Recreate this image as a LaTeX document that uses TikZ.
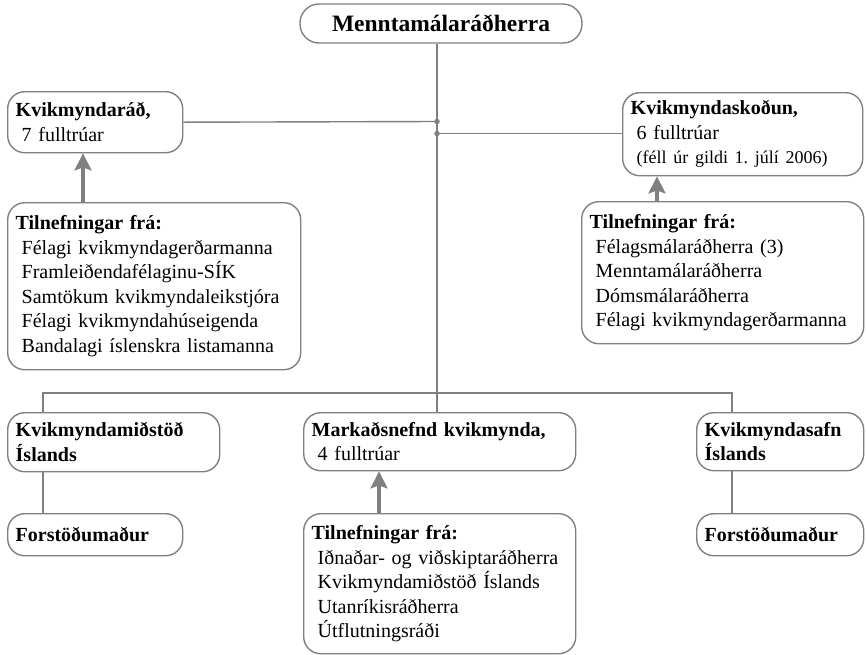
\documentclass[tikz,border=0pt]{standalone}
\usepackage{fontspec}
\setmainfont{Liberation Serif}
\usetikzlibrary{positioning,arrows.meta}
\definecolor{linegray}{RGB}{128,128,128}
\frenchspacing

\begin{document}
\begin{tikzpicture}[x=1pt,y=-1pt,
    box/.style={rectangle, rounded corners=17pt, draw=linegray, line width=1.4pt,
                fill=white, align=left, anchor=north west,
                inner xsep=8pt, inner ysep=4pt,
                font=\fontsize{20}{24.5}\selectfont},
    link/.style={draw=linegray, line width=1.4pt},
    arr/.style={-{Stealth[length=17pt,width=17pt,inset=3pt]}, line width=3.2pt, linegray},
    jdot/.style={circle, fill=linegray, inner sep=0pt, minimum size=5.5pt}
  ]
  \useasboundingbox (0,0) rectangle (866,654);

  \node[box, rounded corners=19pt, anchor=center, align=center,
        minimum width=282pt, minimum height=39pt,
        font=\fontsize{23.5}{28}\selectfont\bfseries] (minister) at (441,23.5)
        {Menntamálaráðherra};

  \node[box, text width=159pt, minimum height=61pt] (council) at (7,91)
        {\textbf{Kvikmyndaráð,}\\\hspace*{0.3em}7 fulltrúar};
  \node[box, text width=224pt, minimum height=83pt] (censor) at (622,92)
        {\textbf{Kvikmyndaskoðun,}\\\hspace*{0.3em}6 fulltrúar\\
         \hspace*{0.3em}{\fontsize{18}{20}\selectfont (féll úr gildi 1. júlí 2006)}};

  \node[box, text width=277pt, minimum height=167pt] (nomleft) at (7,202)
        {\textbf{Tilnefningar frá:}\\
         \hspace*{0.3em}Félagi kvikmyndagerðarmanna\\
         \hspace*{0.3em}Framleiðendafélaginu-SÍK\\
         \hspace*{0.3em}Samtökum kvikmyndaleikstjóra\\
         \hspace*{0.3em}Félagi kvikmyndahúseigenda\\
         \hspace*{0.3em}Bandalagi íslenskra listamanna};
  \node[box, text width=266pt, minimum height=142pt] (nomright) at (581,201)
        {\textbf{Tilnefningar frá:}\\
         \hspace*{0.3em}Félagsmálaráðherra (3)\\
         \hspace*{0.3em}Menntamálaráðherra\\
         \hspace*{0.3em}Dómsmálaráðherra\\
         \hspace*{0.3em}Félagi kvikmyndagerðarmanna};

  \node[box, text width=196pt, minimum height=59pt] (centre) at (7,412)
        {\textbf{Kvikmyndamiðstöð}\\\textbf{Íslands}};
  \node[box, text width=256pt, minimum height=58pt] (market) at (303,412)
        {\textbf{Markaðsnefnd kvikmynda,}\\\hspace*{0.3em}4 fulltrúar};
  \node[box, text width=151pt, minimum height=58pt] (archive) at (696,412)
        {\textbf{Kvikmyndasafn}\\\textbf{Íslands}};

  \node[box, text width=159pt, minimum height=42pt] (headL) at (7,513)
        {\textbf{Forstöðumaður}};
  \node[box, text width=151pt, minimum height=42pt] (headR) at (696,513)
        {\textbf{Forstöðumaður}};
  \node[box, text width=256pt, minimum height=140pt] (nommid) at (303,513)
        {\textbf{Tilnefningar frá:}\\
         \hspace*{0.3em}Iðnaðar- og viðskiptaráðherra\\
         \hspace*{0.3em}Kvikmyndamiðstöð Íslands\\
         \hspace*{0.3em}Utanríkisráðherra\\
         \hspace*{0.3em}Útflutningsráði};

  \coordinate (jl) at (437,121.5);
  \coordinate (jr) at (437,133.5);
  \coordinate (bus) at (437,393);

  \draw[link] (jl |- minister.south) -- (jl |- market.north);
  \draw[link] (council.east) -- (jl);
  \draw[link] (jr) -- (jr -| censor.west);
  \node[jdot] (dotL) at (jl) {};
  \node[jdot] (dotR) at (jr) {};

  \draw[link] ([xshift=36pt]centre.north west) |- (bus)
              -| ([xshift=36pt]archive.north west);
  \draw[link] ([xshift=36pt]centre.south west) -- ([xshift=36pt]headL.north west);
  \draw[link] ([xshift=36pt]archive.south west) -- ([xshift=36pt]headR.north west);

  \draw[arr] ([xshift=76pt]nomleft.north west) -- ([xshift=76pt]council.south west);
  \draw[arr] ([xshift=76pt]nomright.north west) -- ([xshift=35pt]censor.south west);
  \draw[arr] ([xshift=76pt]nommid.north west) -- ([xshift=76pt]market.south west);
\end{tikzpicture}
\end{document}
